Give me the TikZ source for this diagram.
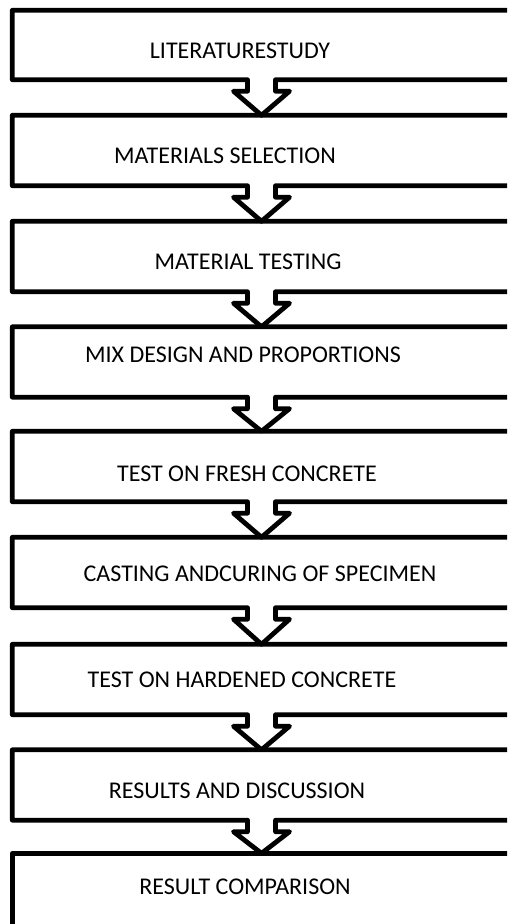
\documentclass[tikz,border=0pt]{standalone}
\usepackage{fontspec}
\setmainfont{Carlito}
\usetikzlibrary{calc}

\tikzset{
  box/.style={rectangle,draw=none,minimum width=560pt,minimum height=70pt,inner sep=0pt},
  callout/.style={draw=black,line width=4.8pt,line join=round},
  lbl/.style={font=\fontsize{24}{28}\selectfont,inner sep=0pt}
}

\begin{document}
\begin{tikzpicture}[x=1pt,y=-1pt]
\clip (0,0) rectangle (507,924);
\fill[white] (0,0) rectangle (507,924);

% the stages, open to the right
\node[box,minimum height=69pt] (box1) at (292.5,45) {};
\node[box] (box2) at (292.5,150.5) {};
\node[box] (box3) at (292.5,256.5) {};
\node[box] (box4) at (292.5,362) {};
\node[box] (box5) at (292.5,466.5) {};
\node[box] (box6) at (292.5,572.5) {};
\node[box] (box7) at (292.5,679.5) {};
\node[box] (box8) at (292.5,785) {};
\node[box,minimum height=100pt] (box9) at (292.5,903.5) {};
\coordinate (ax) at (261.5,0);

% outline with down arrow to the next stage
\draw[callout] (box1.north east) -- (box1.north west) -- (box1.south west) -- ($(ax |- box1.south)+(-14,0)$) -- ++(0,11.5) -- ++(-14,0) -- (ax |- box2.north) -- ($(ax |- box1.south)+(28,11.5)$) -- ++(-14,0) -- ++(0,-11.5) -- (box1.south east);
\draw[callout] (box2.north east) -- (box2.north west) -- (box2.south west) -- ($(ax |- box2.south)+(-14,0)$) -- ++(0,11.5) -- ++(-14,0) -- (ax |- box3.north) -- ($(ax |- box2.south)+(28,11.5)$) -- ++(-14,0) -- ++(0,-11.5) -- (box2.south east);
\draw[callout] (box3.north east) -- (box3.north west) -- (box3.south west) -- ($(ax |- box3.south)+(-14,0)$) -- ++(0,11.5) -- ++(-14,0) -- (ax |- box4.north) -- ($(ax |- box3.south)+(28,11.5)$) -- ++(-14,0) -- ++(0,-11.5) -- (box3.south east);
\draw[callout] (box4.north east) -- (box4.north west) -- (box4.south west) -- ($(ax |- box4.south)+(-14,0)$) -- ++(0,11.5) -- ++(-14,0) -- (ax |- box5.north) -- ($(ax |- box4.south)+(28,11.5)$) -- ++(-14,0) -- ++(0,-11.5) -- (box4.south east);
\draw[callout] (box5.north east) -- (box5.north west) -- (box5.south west) -- ($(ax |- box5.south)+(-14,0)$) -- ++(0,11.5) -- ++(-14,0) -- (ax |- box6.north) -- ($(ax |- box5.south)+(28,11.5)$) -- ++(-14,0) -- ++(0,-11.5) -- (box5.south east);
\draw[callout] (box6.north east) -- (box6.north west) -- (box6.south west) -- ($(ax |- box6.south)+(-14,0)$) -- ++(0,11.5) -- ++(-14,0) -- (ax |- box7.north) -- ($(ax |- box6.south)+(28,11.5)$) -- ++(-14,0) -- ++(0,-11.5) -- (box6.south east);
\draw[callout] (box7.north east) -- (box7.north west) -- (box7.south west) -- ($(ax |- box7.south)+(-14,0)$) -- ++(0,11.5) -- ++(-14,0) -- (ax |- box8.north) -- ($(ax |- box7.south)+(28,11.5)$) -- ++(-14,0) -- ++(0,-11.5) -- (box7.south east);
\draw[callout] (box8.north east) -- (box8.north west) -- (box8.south west) -- ($(ax |- box8.south)+(-14,0)$) -- ++(0,11.5) -- ++(-14,0) -- (ax |- box9.north) -- ($(ax |- box8.south)+(28,11.5)$) -- ++(-14,0) -- ++(0,-11.5) -- (box8.south east);
\draw[callout] (box9.north east) -- (box9.north west) -- (box9.south west);

% stage titles
\node[lbl] (t1) at (240,51) {LITERATURESTUDY};
\node[lbl] (t2) at (225,156) {MATERIALS SELECTION};
\node[lbl] (t3) at (248,262) {MATERIAL TESTING};
\node[lbl] (t4) at (243,355) {MIX DESIGN AND PROPORTIONS};
\node[lbl] (t5) at (247,474) {TEST ON FRESH CONCRETE};
\node[lbl] (t6) at (260,574) {CASTING ANDCURING OF SPECIMEN};
\node[lbl] (t7) at (242,680) {TEST ON HARDENED CONCRETE};
\node[lbl] (t8) at (237,791) {RESULTS AND DISCUSSION};
\node[lbl] (t9) at (245,887) {RESULT COMPARISON};

\end{tikzpicture}
\end{document}
